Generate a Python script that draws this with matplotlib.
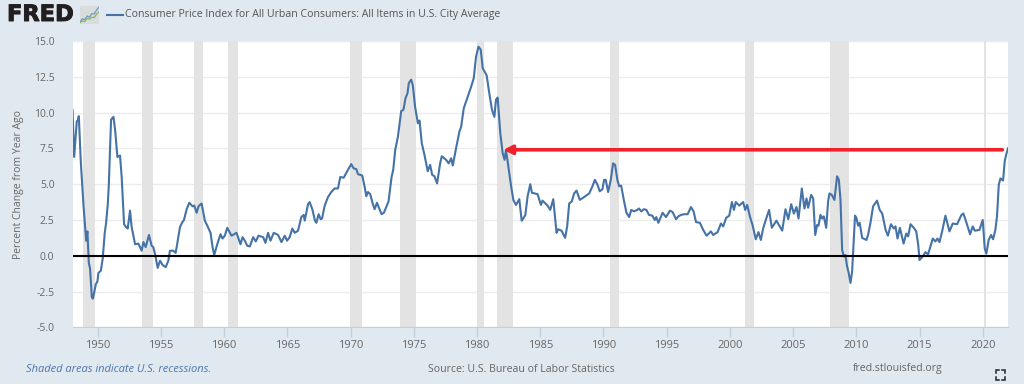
import matplotlib
matplotlib.use('Agg')
import matplotlib.pyplot as plt
import matplotlib.patheffects as pe
from matplotlib.lines import Line2D
from matplotlib.patches import FancyBboxPatch

plt.rcParams['font.family'] = ['Open Sans', 'DejaVu Sans']

# serie, por trechos
years_1948 = [1948.0, 1948.13, 1948.34, 1948.42, 1948.5, 1948.66, 1948.87, 1949.08, 1949.18, 1949.29,
              1949.39, 1949.53, 1949.61, 1949.71, 1949.84, 1949.97, 1950.05, 1950.24, 1950.39, 1950.55,
              1950.66, 1950.79, 1950.87, 1951.05, 1951.24, 1951.37, 1951.55, 1951.76, 1951.89, 1952.08,
              1952.24, 1952.37, 1952.55, 1952.68, 1952.95, 1953.21, 1953.47, 1953.61, 1953.79, 1954.05,
              1954.26, 1954.39, 1954.53, 1954.74, 1954.92, 1955.13, 1955.37, 1955.58, 1955.71, 1955.97,
              1956.16, 1956.24, 1956.5, 1956.66, 1956.82, 1957.03, 1957.24, 1957.5, 1957.63, 1957.82,
              1957.97, 1958.21, 1958.47, 1958.66, 1958.92, 1959.08, 1959.21, 1959.45, 1959.71, 1959.87]
values_1948 = [10.2, 6.9, 9.4, 9.45, 9.75, 6.5, 3.5, 1.05, 1.7, -0.5,
               -0.9, -2.9, -3.0, -2.6, -2.0, -1.8, -1.2, -1.05, -0.2, 1.6,
               2.3, 3.6, 4.9, 9.5, 9.7, 8.8, 6.9, 7.0, 5.5, 2.2,
               2.0, 1.9, 3.15, 2.0, 0.8, 0.85, 0.35, 0.95, 0.6, 1.45,
               0.7, 0.6, 0.1, -0.85, -0.35, -0.65, -0.8, -0.35, 0.35, 0.35,
               0.2, 0.6, 2.0, 2.3, 2.5, 3.25, 3.7, 3.45, 3.5, 3.0,
               3.45, 3.65, 2.45, 2.1, 1.6, 0.6, 0.05, 0.8, 1.5, 1.2]

years_1960 = [1960.05, 1960.24, 1960.58, 1960.97, 1961.29, 1961.45, 1961.63, 1961.82, 1962.03, 1962.29,
              1962.5, 1962.71, 1963.08, 1963.26, 1963.47, 1963.66, 1963.92, 1964.26, 1964.53, 1964.79,
              1964.97, 1965.18, 1965.39, 1965.58, 1965.84, 1966.1, 1966.29, 1966.37, 1966.63, 1966.76,
              1966.97, 1967.18, 1967.29, 1967.47, 1967.63, 1967.74, 1967.95, 1968.21, 1968.47, 1968.74,
              1969.0, 1969.18, 1969.45, 1969.79, 1970.05, 1970.24, 1970.45, 1970.58, 1970.92, 1971.1,
              1971.24, 1971.37, 1971.55, 1971.76, 1971.9, 1972.08, 1972.29, 1972.45, 1972.63, 1972.82,
              1973.0, 1973.1, 1973.24, 1973.37, 1973.53, 1973.74, 1974.0, 1974.18, 1974.34, 1974.5,
              1974.6, 1974.79, 1974.92, 1975.1, 1975.32, 1975.45, 1975.63, 1975.84, 1976.1, 1976.29,
              1976.45, 1976.63, 1976.84, 1977.08, 1977.21, 1977.55, 1977.76, 1977.95, 1978.08, 1978.34,
              1978.6, 1978.74, 1978.95, 1979.26, 1979.53, 1979.74, 1979.92]
values_1960 = [1.4, 1.95, 1.4, 1.6, 0.8, 1.3, 1.05, 0.7, 0.65, 1.3,
               1.0, 1.4, 1.3, 0.9, 1.6, 1.05, 1.6, 1.45, 0.95, 1.4,
               1.05, 1.3, 1.9, 1.6, 1.75, 2.7, 2.85, 2.45, 3.6, 3.75,
               3.25, 2.45, 2.3, 2.9, 2.55, 2.6, 3.5, 4.1, 4.45, 4.7,
               4.7, 5.5, 5.45, 6.0, 6.4, 6.1, 6.05, 5.7, 5.6, 4.85,
               4.15, 4.45, 4.3, 3.6, 3.25, 3.7, 3.25, 2.9, 3.0, 3.4,
               3.8, 4.5, 5.5, 6.0, 7.4, 8.3, 10.1, 10.2, 11.0, 11.35,
               12.05, 12.3, 11.9, 10.4, 9.25, 9.45, 7.85, 7.05, 5.9, 6.35,
               5.65, 5.55, 5.05, 6.45, 6.95, 6.7, 6.45, 6.8, 6.3, 7.5,
               8.65, 9.0, 10.3, 11.1, 11.8, 12.4, 13.9]

years_1980 = [1980.11, 1980.29, 1980.45, 1980.76, 1980.97, 1981.18, 1981.37, 1981.5, 1981.63, 1981.84,
              1982.03, 1982.18, 1982.29, 1982.55, 1982.68, 1982.87, 1983.08, 1983.34, 1983.53, 1983.66,
              1983.82, 1984.0, 1984.21, 1984.34, 1984.79, 1985.05, 1985.18, 1985.58, 1985.79, 1986.03,
              1986.29, 1986.42, 1986.68, 1986.97, 1987.13, 1987.29, 1987.5, 1987.68, 1987.87, 1988.13,
              1988.47, 1988.87, 1989.13, 1989.32, 1989.53, 1989.71, 1989.92, 1990.05, 1990.18, 1990.37,
              1990.58, 1990.76, 1990.92, 1991.1, 1991.24, 1991.4, 1991.63, 1991.82, 1992.03, 1992.2,
              1992.42, 1992.68, 1992.8, 1993.0, 1993.2, 1993.4, 1993.6, 1993.87, 1994.05, 1994.18,
              1994.34, 1994.68, 1994.95, 1995.26, 1995.47, 1995.74, 1995.92, 1996.13, 1996.39, 1996.66,
              1996.92, 1997.13, 1997.32, 1997.63, 1997.89, 1998.16, 1998.5, 1998.68, 1999.03, 1999.29,
              1999.47, 1999.71, 1999.95]
values_1980 = [14.6, 14.4, 13.1, 12.6, 11.35, 10.2, 9.7, 10.9, 11.05, 8.55,
               7.15, 6.7, 7.4, 5.75, 4.95, 3.9, 3.55, 3.95, 2.45, 2.6,
               2.85, 4.15, 5.0, 4.4, 4.3, 3.55, 3.85, 3.5, 3.2, 3.95,
               1.6, 1.85, 1.75, 1.25, 2.05, 3.65, 3.8, 4.35, 4.55, 3.9,
               4.1, 4.35, 4.85, 5.3, 4.95, 4.5, 4.65, 5.3, 5.3, 4.45,
               5.3, 6.45, 6.35, 5.3, 4.85, 4.9, 3.8, 3.0, 2.7, 3.2,
               3.1, 3.2, 3.3, 3.1, 3.25, 3.2, 2.85, 2.8, 2.5, 2.7,
               2.3, 3.0, 2.7, 3.15, 3.05, 2.55, 2.75, 2.85, 2.9, 2.9,
               3.4, 3.1, 2.35, 2.3, 1.8, 1.4, 1.7, 1.45, 1.65, 2.25,
               2.05, 2.65, 2.8]

years_2000 = [2000.16, 2000.32, 2000.47, 2000.74, 2001.05, 2001.21, 2001.37, 2001.58, 2001.79, 2002.05,
              2002.26, 2002.45, 2002.63, 2002.84, 2003.1, 2003.32, 2003.68, 2004.01, 2004.14, 2004.4,
              2004.62, 2004.85, 2005.06, 2005.27, 2005.43, 2005.69, 2005.9, 2006.06, 2006.19, 2006.43,
              2006.59, 2006.75, 2006.9, 2007.01, 2007.17, 2007.3, 2007.43, 2007.62, 2007.77, 2007.88,
              2008.06, 2008.27, 2008.48, 2008.62, 2008.75, 2008.88, 2009.01, 2009.14, 2009.27, 2009.4,
              2009.54, 2009.67, 2009.8, 2009.9, 2010.01, 2010.14, 2010.27, 2010.46, 2010.8, 2010.93,
              2011.12, 2011.33, 2011.64, 2011.85, 2012.05, 2012.32, 2012.5, 2012.74, 2012.97, 2013.1,
              2013.26, 2013.45, 2013.74, 2013.95, 2014.1, 2014.29, 2014.55, 2014.74, 2014.9, 2015.0,
              2015.26, 2015.47, 2015.68, 2016.05, 2016.26, 2016.42, 2016.58, 2016.79, 2017.05, 2017.37,
              2017.63, 2017.97, 2018.32, 2018.47, 2018.68, 2019.0, 2019.21, 2019.37, 2019.74, 2020.0,
              2020.16, 2020.29, 2020.47, 2020.66, 2020.82, 2021.0, 2021.13, 2021.27, 2021.4, 2021.61,
              2021.74, 2021.87, 2022.0]
values_2000 = [3.75, 3.2, 3.75, 3.5, 3.75, 3.2, 3.55, 2.75, 2.15, 1.15,
               1.65, 1.1, 1.9, 2.5, 3.2, 1.95, 2.45, 1.95, 1.75, 3.25,
               2.55, 3.6, 2.95, 3.4, 2.6, 4.7, 3.3, 4.0, 3.35, 4.25,
               4.0, 1.45, 2.15, 2.1, 2.85, 2.6, 2.75, 1.95, 3.8, 4.35,
               4.25, 3.9, 5.55, 5.3, 3.9, 0.4, -0.05, 0.05, -0.75, -1.2,
               -1.9, -1.1, 1.1, 2.8, 2.65, 2.1, 2.3, 1.25, 1.1, 1.45,
               2.3, 3.45, 3.85, 3.2, 2.95, 1.8, 1.4, 2.2, 1.9, 2.05,
               1.2, 1.95, 0.85, 1.55, 1.35, 2.2, 1.95, 1.7, 0.75, -0.3,
               -0.05, 0.25, 0.1, 1.2, 1.0, 1.2, 0.95, 1.7, 2.8, 1.7,
               2.25, 2.2, 2.85, 2.95, 2.4, 1.5, 2.05, 1.75, 1.8, 2.5,
               0.5, 0.15, 1.1, 1.45, 1.15, 1.8, 2.75, 4.95, 5.4, 5.25,
               6.6, 7.1, 7.5]

cpi_years = years_1948 + years_1960 + years_1980 + years_2000
cpi_values = values_1948 + values_1960 + values_1980 + values_2000

# recessoes NBER (inicio, fim)
rec_start = [1948.87, 1953.5, 1957.62, 1960.29, 1969.96, 1973.87, 1980.0, 1981.54, 1990.54, 2001.2, 2007.92, 2020.08]
rec_end = [1949.79, 1954.37, 1958.29, 1961.12, 1970.87, 1975.21, 1980.54, 1982.87, 1991.2, 2001.87, 2009.46, 2020.29]

year_ticks = list(range(1950, 2021, 5))
y_ticks = [-5.0, -2.5, 0.0, 2.5, 5.0, 7.5, 10.0, 12.5, 15.0]

arrow_level = 7.4
arrow_tip = 1982.1
arrow_tail = 2021.55

logo_x = [0, 1, 2, 3, 4, 5, 6, 7, 8]
logo_blue = [1, 2.6, 2.2, 4, 3.4, 5.2, 5, 7, 8.4]
logo_green = [0.6, 1.6, 1.2, 2.8, 2.4, 3.4, 3.2, 5, 6]

BG = '#e1e9f0'
TXT = '#666666'
BLUE = '#4572a7'

fig = plt.figure(figsize=(10.24, 3.84), dpi=100, facecolor=BG)
ax = fig.add_axes([72.5 / 1024, (384 - 327.3) / 384, 935.5 / 1024, 286.3 / 384])

for s, e in zip(rec_start, rec_end):
    ax.axvspan(s, e, color='#e3e3e3', lw=0, zorder=1)

ax.plot(cpi_years, cpi_values, color=BLUE, lw=1.5, solid_joinstyle='round', zorder=3)
ax.axhline(0, color='#000000', lw=1.5, zorder=4)

# seta vermelha
ax.annotate('', xy=(arrow_tip, arrow_level), xytext=(arrow_tail, arrow_level),
            arrowprops=dict(arrowstyle='-|>,head_length=0.5,head_width=0.26', color='#f0202c',
                            lw=2.6, shrinkA=0, shrinkB=0), zorder=5)

ax.set_xlim(1948, 2022)
ax.set_ylim(-5, 15)
ax.set_xticks(year_ticks)
ax.set_yticks(y_ticks)
ax.set_yticklabels(['%.1f' % v for v in y_ticks])
ax.grid(axis='y', color='#ececec', lw=1, zorder=2)
ax.set_axisbelow(True)
for side in ['top', 'right', 'left']:
    ax.spines[side].set_visible(False)
ax.spines['bottom'].set_color('#c0d0e0')
ax.tick_params(axis='x', color='#c0d0e0', length=7, width=1, labelcolor=TXT, labelsize=8, pad=2)
ax.tick_params(axis='y', length=0, labelcolor=TXT, labelsize=7.5, pad=13)
ax.set_ylabel('Percent Change from Year Ago', color=TXT, fontsize=7.5, labelpad=7)

# cabecalho
fig.text(7 / 1024, 1 - 15 / 384, 'FRED', family='DejaVu Sans', weight='bold', fontsize=16.2,
         color='#231f20', va='center', ha='left',
         path_effects=[pe.withStroke(linewidth=0.7, foreground='#231f20')])
logo = fig.add_axes([80 / 1024, 1 - 24 / 384, 19 / 1024, 18 / 384])
logo.add_patch(FancyBboxPatch((0, 0), 8, 9, boxstyle='round,pad=0,rounding_size=0.8',
                              fc='#d9dcdc', ec='none'))
logo.plot(logo_x, logo_blue, color='#6f97c4', lw=0.9)
logo.plot(logo_x, logo_green, color='#8db26c', lw=0.9)
logo.set_xlim(0, 8)
logo.set_ylim(0, 9)
logo.axis('off')

fig.add_artist(Line2D([107 / 1024, 123 / 1024], [1 - 15 / 384, 1 - 15 / 384], color=BLUE, lw=1.5))
fig.text(125 / 1024, 1 - 15 / 384, 'Consumer Price Index for All Urban Consumers: All Items in U.S. City Average',
         color='#555555', fontsize=7.56, va='center', ha='left')

# rodape
fig.text(26 / 1024, 1 - 369 / 384, 'Shaded areas indicate U.S. recessions.', color='#4f77a8',
         style='italic', fontsize=8, va='center', ha='left')
fig.text(428 / 1024, 1 - 369 / 384, 'Source: U.S. Bureau of Labor Statistics', color=TXT,
         fontsize=7.56, va='center', ha='left')
fig.text(853 / 1024, 1 - 369 / 384, 'fred.stlouisfed.org', color=TXT,
         fontsize=7.6, va='center', ha='left')

# icone de tela cheia
for cx, cy, dx, dy in [(996, 370, 1, 1), (1005, 370, -1, 1), (996, 380, 1, -1), (1005, 380, -1, -1)]:
    fig.add_artist(Line2D([cx / 1024, cx / 1024, (cx + 3 * dx) / 1024],
                          [1 - (cy + 3 * dy) / 384, 1 - cy / 384, 1 - cy / 384],
                          color='#222222', lw=1.1, solid_joinstyle='miter'))

fig.savefig('out.png', dpi=100, facecolor=BG)
